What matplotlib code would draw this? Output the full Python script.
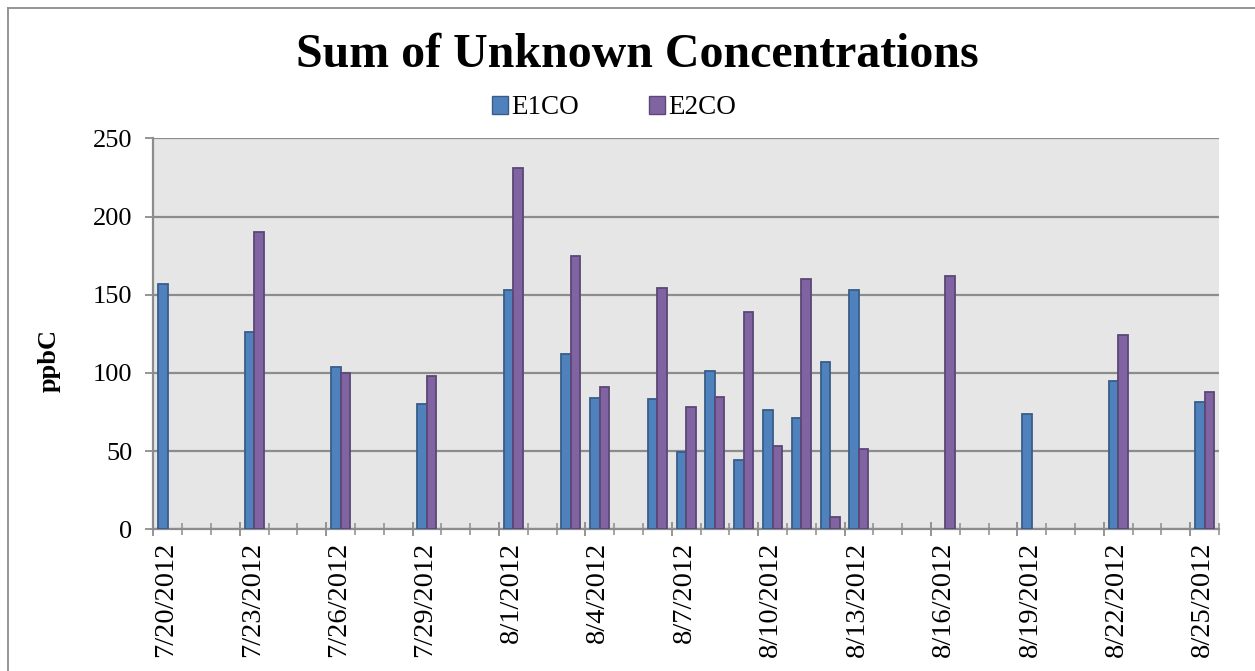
import numpy as np
import pandas as pd
import matplotlib
matplotlib.use("Agg")
import matplotlib.pyplot as plt
from matplotlib.patches import Patch
from matplotlib.lines import Line2D
from matplotlib.transforms import ScaledTranslation

# ---- data ----
dates = ["2012-07-20", "2012-07-23", "2012-07-26", "2012-07-29", "2012-08-01",
         "2012-08-03", "2012-08-04", "2012-08-06", "2012-08-07", "2012-08-08",
         "2012-08-09", "2012-08-10", "2012-08-11", "2012-08-12", "2012-08-13",
         "2012-08-16", "2012-08-19", "2012-08-22", "2012-08-25"]
e1co = [157, 126, 104, 80, 153, 112, 84, 83.5, 49.5, 101, 44, 76.5, 71, 107, 153,
        np.nan, 74, 95, 81.6]
e2co = [np.nan, 190, 100, 98, 231, 175, 91, 154, 78, 84.4, 139, 53, 160, 8, 51.5,
        162, np.nan, 124, 87.6]
series_names = ["E1CO", "E2CO"]
tick_labels = ["7/20/2012", "7/23/2012", "7/26/2012", "7/29/2012", "8/1/2012",
               "8/4/2012", "8/7/2012", "8/10/2012", "8/13/2012", "8/16/2012",
               "8/19/2012", "8/22/2012", "8/25/2012"]
y_ticks = [0, 50, 100, 150, 200, 250]
title = "Sum of Unknown Concentrations"
ylabel = "ppbC"

# ---- style ----
plt.rcParams['font.family'] = ['Liberation Serif', 'DejaVu Serif']
blue, blue_edge = "#4f81bd", "#385d8a"
purple, purple_edge = "#8064a2", "#5c4776"
grid_c = "#8c8c8c"

start = pd.Timestamp("2012-07-20")
days = (pd.to_datetime(dates) - start).days.to_numpy().astype(float)
e1 = np.array(e1co, dtype=float)
e2 = np.array(e2co, dtype=float)

W, H = 1255, 671
fig = plt.figure(figsize=(W / 100, H / 100), dpi=100)
ax = fig.add_axes([153.3 / W, 1 - 529.3 / H, (1219 - 153.3) / W, (529.3 - 138.3) / H])
ax.set_facecolor("#e6e6e6")

bw = 0.33
m1 = ~np.isnan(e1)
m2 = ~np.isnan(e2)
ax.bar(days[m1] + 0.5 - bw / 2, e1[m1], width=bw, color=blue, edgecolor=blue_edge,
       linewidth=1.3, zorder=3)
ax.bar(days[m2] + 0.5 + bw / 2, e2[m2], width=bw, color=purple, edgecolor=purple_edge,
       linewidth=1.3, zorder=3)

ax.set_xlim(0, 37)
ax.set_ylim(0, 250)
ax.set_yticks(y_ticks)
ax.set_yticklabels([str(v) for v in y_ticks], fontsize=19)
ax.yaxis.grid(True, color=grid_c, linewidth=1.6, zorder=1)
ax.set_axisbelow(True)

major = np.arange(0, 37, 3)
ax.set_xticks(major)
ax.set_xticklabels(tick_labels, rotation=90, fontsize=20.5, ha="center", va="top")
ax.set_xticks(np.arange(0, 38, 1), minor=True)
ax.tick_params(axis="x", which="major", direction="inout", length=10, width=1.3,
               color=grid_c, pad=4)
ax.tick_params(axis="x", which="minor", direction="inout", length=8, width=1.1,
               color=grid_c)
ax.tick_params(axis="y", which="major", direction="out", length=6, width=1.3,
               color=grid_c, pad=9)
off = ScaledTranslation(0.125, 0, fig.dpi_scale_trans)
for lbl in ax.get_xticklabels():
    lbl.set_transform(lbl.get_transform() + off)

for s in ["top", "right"]:
    ax.spines[s].set_visible(False)
for s in ["left", "bottom"]:
    ax.spines[s].set_color(grid_c)
    ax.spines[s].set_linewidth(1.6)

fig.text(49 / W, 1 - 360 / H, ylabel, rotation=90, fontsize=19, fontweight="bold",
         ha="center", va="center")
fig.text(637 / W, 1 - 55 / H, title, fontsize=34.5, fontweight="bold",
         ha="center", va="center")

handles = [Patch(facecolor=blue, edgecolor=blue_edge, label=series_names[0]),
           Patch(facecolor=purple, edgecolor=purple_edge, label=series_names[1])]
fig.legend(handles=handles, loc="center", bbox_to_anchor=(614 / W, 1 - 108 / H),
           ncol=2, frameon=False, fontsize=19.5, handlelength=0.6, handleheight=0.6,
           handletextpad=0.1, columnspacing=2.6)

# outer chart border (top and left edges visible)
fig.add_artist(Line2D([8 / W, 1], [1 - 7.5 / H, 1 - 7.5 / H], color="#8c8c8c",
                      linewidth=1.3, transform=fig.transFigure))
fig.add_artist(Line2D([8 / W, 8 / W], [0, 1 - 7.5 / H], color="#8c8c8c",
                      linewidth=1.3, transform=fig.transFigure))

fig.savefig("out.png", dpi=100)
